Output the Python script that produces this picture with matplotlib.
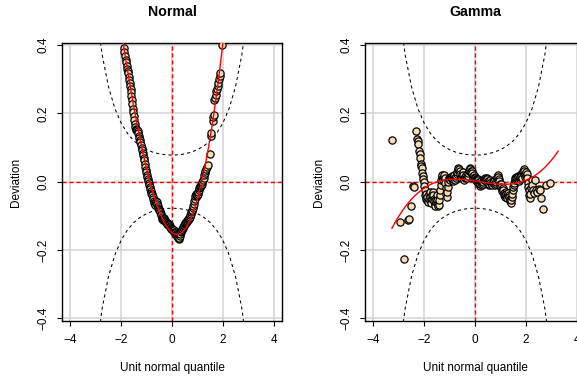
import math
import numpy as np
import matplotlib.pyplot as plt

plt.rcParams['font.family'] = ['Liberation Sans', 'DejaVu Sans']

# worm points: unit normal quantile vs deviation
normal_x = [
    -1.89, -1.87, -1.85, -1.83, -1.81, -1.79, -1.77, -1.75, -1.73, -1.71,
    -1.69, -1.67, -1.65, -1.63, -1.61, -1.60, -1.58, -1.56, -1.54, -1.52,
    -1.50, -1.48, -1.46, -1.44, -1.42, -1.40, -1.37, -1.34, -1.32, -1.30,
    -1.28, -1.26, -1.24, -1.22, -1.20, -1.18, -1.16, -1.14, -1.12, -1.10,
    -1.08, -1.06, -1.04, -1.02, -1.00, -0.98, -0.96, -0.94, -0.92, -0.90,
    -0.88, -0.86, -0.84, -0.82, -0.80, -0.78, -0.76, -0.74, -0.72, -0.70,
    -0.68, -0.66, -0.64, -0.62, -0.60, -0.58, -0.56, -0.54, -0.52, -0.50,
    -0.48, -0.46, -0.44, -0.42, -0.40, -0.38, -0.36, -0.34, -0.32, -0.30,
    -0.28, -0.26, -0.24, -0.22, -0.20, -0.18, -0.16, -0.14, -0.12, -0.10,
    -0.08, -0.06, -0.04, -0.02, 0.00, 0.02, 0.04, 0.06, 0.08, 0.10,
    0.12, 0.14, 0.16, 0.18, 0.20, 0.22, 0.24, 0.26, 0.28, 0.30,
    0.32, 0.34, 0.36, 0.38, 0.40, 0.42, 0.44, 0.46, 0.48, 0.50,
    0.52, 0.54, 0.56, 0.58, 0.60, 0.62, 0.64, 0.66, 0.68, 0.70,
    0.72, 0.74, 0.76, 0.78, 0.80, 0.82, 0.84, 0.86, 0.88, 0.90,
    0.92, 0.94, 0.96, 0.98, 1.00, 1.02, 1.04, 1.06, 1.08, 1.10,
    1.12, 1.14, 1.16, 1.18, 1.20, 1.22, 1.24, 1.26, 1.28, 1.30,
    1.33, 1.36, 1.43, 1.50, 1.53, 1.55, 1.60, 1.62, 1.64, 1.67,
    1.69, 1.72, 1.75, 1.78, 1.80, 1.83, 1.86, 1.88, 1.90, 1.95,
]
normal_y = [
    0.392, 0.380, 0.368, 0.357, 0.349, 0.340, 0.331, 0.325, 0.318, 0.307,
    0.297, 0.288, 0.280, 0.272, 0.262, 0.250, 0.238, 0.226, 0.214, 0.205,
    0.193, 0.182, 0.170, 0.160, 0.155, 0.152, 0.150, 0.148, 0.143, 0.135,
    0.128, 0.122, 0.116, 0.108, 0.100, 0.092, 0.085, 0.078, 0.070, 0.062,
    0.052, 0.043, 0.035, 0.028, 0.020, 0.013, 0.007, 0.002, -0.004, -0.010,
    -0.016, -0.022, -0.028, -0.033, -0.037, -0.040, -0.046, -0.052, -0.058, -0.062,
    -0.065, -0.068, -0.062, -0.058, -0.060, -0.066, -0.072, -0.077, -0.080, -0.083,
    -0.086, -0.089, -0.094, -0.099, -0.104, -0.108, -0.112, -0.110, -0.106, -0.108,
    -0.113, -0.116, -0.118, -0.119, -0.121, -0.123, -0.125, -0.126, -0.124, -0.126,
    -0.130, -0.133, -0.136, -0.139, -0.140, -0.142, -0.141, -0.143, -0.146, -0.148,
    -0.150, -0.153, -0.155, -0.157, -0.160, -0.163, -0.166, -0.168, -0.165, -0.160,
    -0.152, -0.148, -0.145, -0.142, -0.140, -0.137, -0.133, -0.130, -0.127, -0.125,
    -0.122, -0.120, -0.117, -0.115, -0.116, -0.113, -0.110, -0.108, -0.106, -0.103,
    -0.098, -0.094, -0.090, -0.086, -0.082, -0.076, -0.070, -0.064, -0.058, -0.050,
    -0.042, -0.036, -0.040, -0.043, -0.040, -0.035, -0.030, -0.025, -0.020, -0.016,
    -0.012, -0.014, -0.010, -0.006, -0.002, 0.005, 0.012, 0.020, 0.026, 0.030,
    0.036, 0.042, 0.048, 0.082, 0.135, 0.142, 0.178, 0.188, 0.196, 0.238,
    0.246, 0.255, 0.264, 0.272, 0.280, 0.290, 0.300, 0.310, 0.318, 0.400,
]

gamma_x = [
    -3.27, -2.94, -2.78, -2.65, -2.59, -2.52, -2.46, -2.40,
    -2.34, -2.29, -2.26, -2.24, -2.20, -2.18, -2.16, -2.13, -2.11, -2.09,
    -2.07, -2.05, -2.03, -2.01, -1.99,
    -1.97, -1.95, -1.93, -1.91, -1.89, -1.87, -1.85, -1.83, -1.81, -1.79,
    -1.77, -1.75, -1.73, -1.71, -1.69, -1.67, -1.65, -1.63, -1.61, -1.59,
    -1.57, -1.55, -1.53, -1.51, -1.49, -1.47, -1.45, -1.43, -1.41, -1.39,
    -1.37, -1.35, -1.33, -1.31, -1.29, -1.27, -1.25, -1.23, -1.21, -1.19,
    -1.17, -1.15, -1.13, -1.11, -1.09, -1.07, -1.05, -1.03, -1.01, -0.99,
    -0.97, -0.95, -0.93, -0.91, -0.89, -0.87, -0.85, -0.83, -0.81, -0.79,
    -0.77, -0.75, -0.73, -0.71, -0.69, -0.67, -0.65, -0.63, -0.61, -0.59,
    -0.57, -0.55, -0.53, -0.51, -0.49, -0.47, -0.45, -0.43, -0.41, -0.39,
    -0.37, -0.35, -0.33, -0.31, -0.29, -0.27, -0.25, -0.23, -0.21, -0.19,
    -0.17, -0.15, -0.13, -0.11, -0.09, -0.07, -0.05, -0.03, -0.01, 0.01,
    0.03, 0.05, 0.07, 0.09, 0.11, 0.13, 0.15, 0.17, 0.19, 0.21,
    0.23, 0.25, 0.27, 0.29, 0.31, 0.33, 0.35, 0.37, 0.39, 0.41,
    0.43, 0.45, 0.47, 0.49, 0.51, 0.53, 0.55, 0.57, 0.59, 0.61,
    0.63, 0.65, 0.67, 0.69, 0.71, 0.73, 0.75, 0.77, 0.79, 0.81,
    0.83, 0.85, 0.87, 0.89, 0.91, 0.93, 0.95, 0.97, 0.99, 1.01,
    1.03, 1.05, 1.07, 1.09, 1.11, 1.13, 1.15, 1.17, 1.19, 1.21,
    1.23, 1.25, 1.27, 1.29, 1.31, 1.33, 1.35, 1.37, 1.39, 1.41,
    1.43, 1.45, 1.47, 1.49, 1.51, 1.53, 1.55, 1.57, 1.59, 1.61,
    1.63, 1.65, 1.67, 1.69, 1.71, 1.73, 1.75, 1.77, 1.79, 1.81,
    1.83, 1.85, 1.87, 1.89, 1.91, 1.93, 1.95, 1.97, 1.99, 2.01,
    2.03, 2.05, 2.07, 2.09, 2.11, 2.13, 2.15, 2.17, 2.20, 2.23,
    2.26, 2.29, 2.33, 2.37, 2.41, 2.45, 2.50, 2.55, 2.60, 2.68,
    2.80, 2.95,
]
gamma_y = [
    0.122, -0.118, -0.225, -0.113, -0.110, -0.072, -0.013, -0.017,
    0.149, 0.125, 0.118, 0.110, 0.090, 0.080, 0.068, 0.053, 0.046, 0.039,
    0.024, 0.016, 0.009, 0.000, -0.012,
    -0.025, -0.040, -0.050, -0.035, -0.055, -0.045, -0.060, -0.050, -0.035, -0.030,
    -0.045, -0.055, -0.062, -0.050, -0.040, -0.030, -0.040, -0.050, -0.058, -0.066,
    -0.070, -0.060, -0.050, -0.040, -0.055, -0.065, -0.072, -0.068, -0.055, -0.040,
    -0.025, -0.010, 0.005, 0.015, 0.020, 0.012, 0.005, 0.015, 0.020, 0.010,
    -0.005, -0.020, -0.035, -0.045, -0.030, -0.015, 0.000, 0.008, 0.012, 0.010,
    0.005, 0.012, 0.015, 0.018, 0.010, 0.002, 0.008, 0.015, 0.020, 0.012,
    0.005, 0.010, 0.018, 0.022, 0.028, 0.035, 0.040, 0.038, 0.030, 0.022,
    0.015, 0.010, 0.015, 0.022, 0.028, 0.020, 0.012, 0.005, 0.010, 0.015,
    0.018, 0.020, 0.015, 0.010, 0.018, 0.025, 0.030, 0.035, 0.040, 0.038,
    0.032, 0.028, 0.030, 0.025, 0.018, 0.012, 0.015, 0.020, 0.015, 0.010,
    0.008, 0.005, 0.000, 0.004, 0.008, 0.004, -0.002, -0.008, -0.012, -0.008,
    -0.002, 0.002, -0.004, -0.010, -0.006, 0.000, 0.004, 0.008, 0.010, 0.006,
    0.002, 0.008, 0.012, 0.008, 0.002, -0.004, -0.010, -0.006, 0.000, 0.004,
    0.000, -0.006, -0.010, -0.005, 0.002, 0.006, 0.002, -0.004, -0.010, -0.006,
    0.000, 0.008, 0.015, 0.020, 0.015, 0.008, 0.002, -0.006, -0.012, -0.008,
    -0.015, -0.022, -0.028, -0.020, -0.025, -0.032, -0.040, -0.045, -0.038, -0.030,
    -0.035, -0.042, -0.048, -0.040, -0.032, -0.038, -0.045, -0.052, -0.058, -0.062,
    -0.055, -0.045, -0.035, -0.025, -0.015, -0.010, -0.005, 0.005, 0.012, 0.015,
    0.010, 0.005, 0.012, 0.018, 0.015, 0.008, 0.002, 0.008, 0.015, 0.022,
    0.018, 0.012, 0.025, 0.032, 0.036, 0.030, 0.022, 0.015, 0.020, 0.028,
    0.022, 0.010, -0.005, -0.015, -0.025, -0.040, -0.048, -0.035, -0.020, 0.005,
    -0.010, -0.025, -0.032, 0.005, -0.025, -0.030, -0.022, -0.025, -0.048, -0.080,
    -0.010, -0.004,
]

# cubic fit of deviation on quantile, highest power first
normal_fit = [0.01153, 0.14344, -0.05581, -0.14953]
gamma_fit = [0.0043, -0.00239, -0.0115, 0.002]
fit_lo, fit_hi = -3.27, 3.27

n_obs = 1000
x_ticks = [-4, -2, 0, 2, 4]
y_ticks = [-0.4, -0.2, 0.0, 0.2, 0.4]

panels = [
    ("Normal", normal_x, normal_y, normal_fit),
    ("Gamma", gamma_x, gamma_y, gamma_fit),
]

W, H = 577, 377
fig = plt.figure(figsize=(W / 100, H / 100), dpi=100)

base = 8.5
lefts = [62, 365]
ax_w, ax_top, ax_bot = 220, 43, 321


def fmt(v):
    s = f"{v:.1f}" if isinstance(v, float) else f"{v:d}"
    return s.replace("-", "\u2212")


# 95% confidence band of the worm plot
z = np.arange(-4, 4.001, 0.25)
p = np.array([0.5 * (1 + math.erf(v / math.sqrt(2))) for v in z])
dens = np.exp(-z ** 2 / 2) / math.sqrt(2 * math.pi)
se = np.sqrt(p * (1 - p) / n_obs) / dens
band = 1.959964 * se

for (title, xs, ys, coef), left in zip(panels, lefts):
    ax = fig.add_axes([left / W, 1 - ax_bot / H, ax_w / W, (ax_bot - ax_top) / H])
    ax.set_xlim(-4.33, 4.33)
    ax.set_ylim(-0.408, 0.406)

    for v in x_ticks:
        ax.axvline(v, color="#d3d3d3", lw=1.1, zorder=0)
    for v in y_ticks:
        ax.axhline(v, color="#d3d3d3", lw=1.1, zorder=0)

    ax.axhline(0, color="red", lw=1.0, dashes=(3, 2), zorder=1)
    ax.axvline(0, color="red", lw=1.0, dashes=(3, 2), zorder=1)

    ax.plot(z, band, color="black", lw=0.75, dashes=(3, 3), zorder=2)
    ax.plot(z, -band, color="black", lw=0.75, dashes=(3, 3), zorder=2)

    ax.scatter(xs, ys, s=27, facecolor="wheat", edgecolor="black",
               linewidth=0.9, zorder=3)

    xf = np.linspace(fit_lo, fit_hi, 200)
    ax.plot(xf, np.polyval(coef, xf), color="red", lw=1.0, zorder=4)

    ax.set_xticks(x_ticks)
    ax.set_xticklabels([fmt(v) for v in x_ticks])
    ax.set_yticks(y_ticks)
    ax.set_yticklabels([fmt(v) for v in y_ticks], rotation=90, va="center")
    ax.tick_params(direction="out", length=3.6, width=0.8, pad=5.5,
                   labelsize=base, colors="black")
    for sp in ax.spines.values():
        sp.set_linewidth(1.0)

    ax.text(0.5, 1.1115, title, transform=ax.transAxes, ha="center",
            va="center", fontsize=base * 1.2, fontweight="bold")
    ax.text(0.5, -0.169, "Unit normal quantile", transform=ax.transAxes,
            ha="center", va="center", fontsize=base)
    ax.text(-0.21, 0.5, "Deviation", transform=ax.transAxes, ha="center",
            va="center", rotation=90, fontsize=base)

fig.savefig("out.png", dpi=100)
